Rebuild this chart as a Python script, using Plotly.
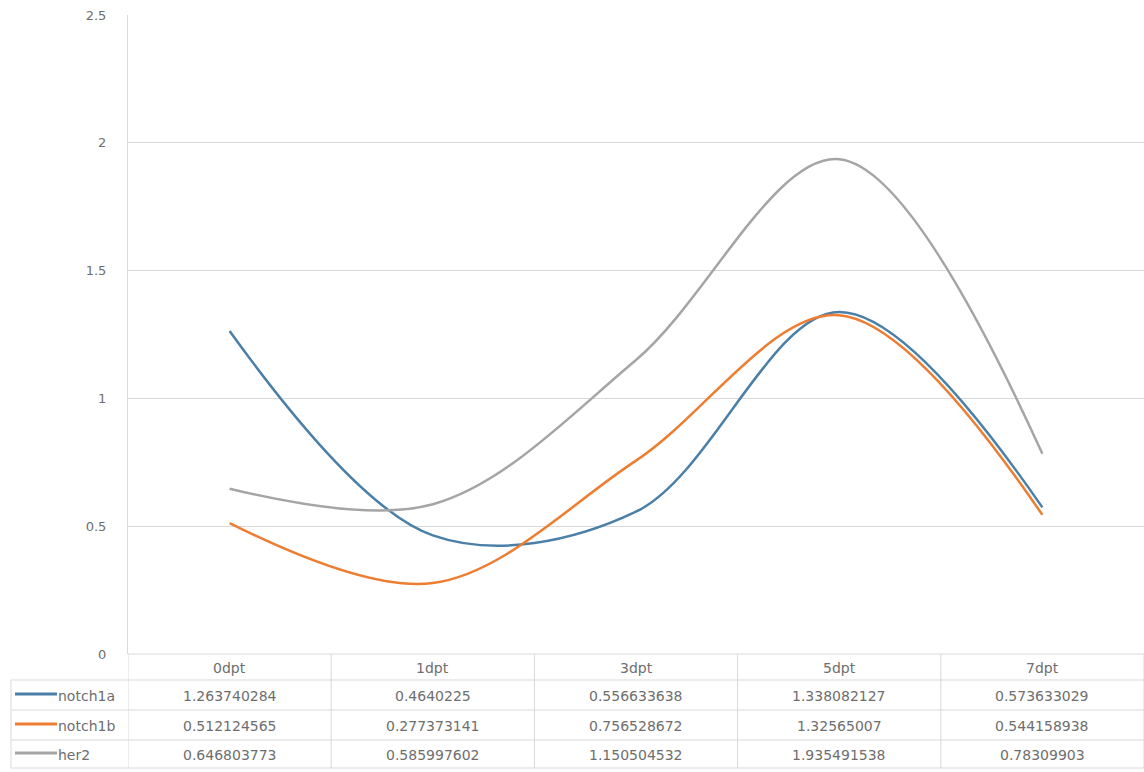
import plotly.graph_objects as go

categories = ["0dpt", "1dpt", "3dpt", "5dpt", "7dpt"]
series_names = ["notch1a", "notch1b", "her2"]
notch1a = [1.263740284, 0.4640225, 0.556633638, 1.338082127, 0.573633029]
notch1b = [0.512124565, 0.277373141, 0.756528672, 1.32565007, 0.544158938]
her2 = [0.646803773, 0.585997602, 1.150504532, 1.935491538, 0.78309903]
value_labels = {
    "notch1a": ["1.263740284", "0.4640225", "0.556633638", "1.338082127", "0.573633029"],
    "notch1b": ["0.512124565", "0.277373141", "0.756528672", "1.32565007", "0.544158938"],
    "her2": ["0.646803773", "0.585997602", "1.150504532", "1.935491538", "0.78309903"],
}
y_ticks = [0, 0.5, 1, 1.5, 2, 2.5]
y_tick_text = ["0", "0.5", "1", "1.5", "2", "2.5"]
colors = {"notch1a": "#4A7FA8", "notch1b": "#ED7D31", "her2": "#A5A5A5"}

W, H = 1144, 772
L, R, T, B = 128, 0, 15, 118
plot_top, plot_bottom = T, H - B
ph = plot_bottom - plot_top
pw = W - L - R

def py(ypix):
    return (plot_bottom - ypix) / ph

def px(xpix):
    return (xpix - L) / pw

fig = go.Figure()
xs = list(range(len(categories)))
for name, vals in zip(series_names, [notch1a, notch1b, her2]):
    fig.add_trace(go.Scatter(x=xs, y=vals, mode="lines", name=name,
                             line=dict(color=colors[name], width=2.5, shape="spline", smoothing=1.0),
                             showlegend=False, hoverinfo="x+y"))

grid = "#D9D9D9"
txt = "#6E6E6E"
font = dict(family="DejaVu Sans", size=14, color=txt)

fig.update_layout(
    width=W, height=H,
    margin=dict(l=L, r=R, t=T, b=B, pad=0),
    paper_bgcolor="white", plot_bgcolor="white",
    xaxis=dict(range=[-0.5, len(categories) - 0.5], showgrid=False, showticklabels=False,
               zeroline=False, showline=False, ticks=""),
    yaxis=dict(range=[0, 2.5], tickvals=y_ticks, ticktext=y_tick_text, showgrid=True,
               gridcolor=grid, gridwidth=1, zeroline=False, showline=True, linecolor=grid,
               linewidth=1, ticks="", ticklabelstandoff=18,
               tickfont=dict(family="DejaVu Sans", size=13, color=txt)),
    font=font,
)

row_lines = [654, 680, 710, 740, 768]
shapes = []
shapes.append(dict(type="line", xref="paper", yref="paper", x0=0, x1=1, y0=py(row_lines[0]), y1=py(row_lines[0]),
                   line=dict(color=grid, width=1)))
for yl in row_lines[1:]:
    shapes.append(dict(type="line", xref="paper", yref="paper", x0=px(11), x1=1, y0=py(yl), y1=py(yl),
                       line=dict(color=grid, width=1)))
shapes.append(dict(type="line", xref="paper", yref="paper", x0=px(11), x1=px(11), y0=py(row_lines[1]), y1=py(row_lines[-1]),
                   line=dict(color=grid, width=1)))
for i in range(len(categories) + 1):
    shapes.append(dict(type="line", xref="x", yref="paper", x0=i - 0.5, x1=i - 0.5,
                       y0=py(row_lines[0]), y1=py(row_lines[-1]), line=dict(color=grid, width=1)))

annotations = []
header_y = 668
row_y = [696, 726, 755]
for i, c in enumerate(categories):
    annotations.append(dict(x=i, y=py(header_y), xref="x", yref="paper", text=c, showarrow=False,
                            font=font, xanchor="center", yanchor="middle"))
for r, name in enumerate(series_names):
    for i in range(len(categories)):
        annotations.append(dict(x=i, y=py(row_y[r]), xref="x", yref="paper", text=value_labels[name][i],
                                showarrow=False, font=font, xanchor="center", yanchor="middle"))
    shapes.append(dict(type="line", xref="paper", yref="paper", x0=px(15), x1=px(57),
                       y0=py(row_y[r] - 2), y1=py(row_y[r] - 2), line=dict(color=colors[name], width=3)))
    annotations.append(dict(x=px(56), y=py(row_y[r]), xref="paper", yref="paper", text=name, showarrow=False,
                            font=font, xanchor="left", yanchor="middle"))

fig.update_layout(shapes=shapes, annotations=annotations)
fig.write_html("out.html", config={"displayModeBar": False},
               post_script="document.body.style.margin='0';document.body.style.padding='0';")
